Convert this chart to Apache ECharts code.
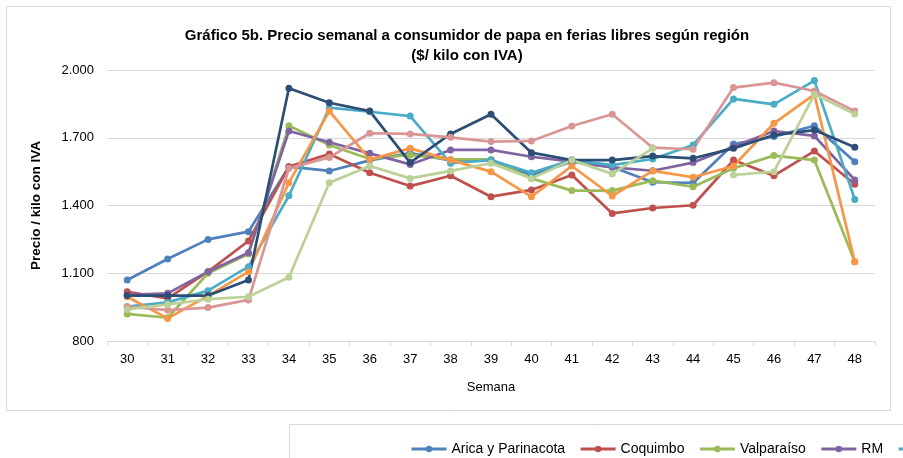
<!DOCTYPE html>
<html>
<head>
<meta charset="utf-8">
<script src="https://cdn.jsdelivr.net/npm/echarts@6/dist/echarts.min.js"></script>
<style>
html,body{margin:0;padding:0;background:#fff;}
#chart{width:903px;height:458px;}
</style>
</head>
<body>
<div id="chart"></div>
<script>
const weeks = ['30','31','32','33','34','35','36','37','38','39','40','41','42','43','44','45','46','47','48'];
const seriesNames = ['Arica y Parinacota','Coquimbo','Valparaíso','RM',"O'Higgins",'Maule','Biobío','La Araucanía','Los Lagos'];
const arica      = [1070,1163,1250,1284,1572,1553,1600,1632,1600,1600,1535,1594,1570,1503,1500,1672,1705,1753,1594];
const coquimbo   = [1018, 989,1107,1243,1572,1628,1545,1486,1532,1439,1469,1535,1365,1389,1401,1601,1532,1641,1494];
const valparaiso = [ 920, 903,1100,1185,1753,1668,1606,1624,1604,1604,1520,1466,1466,1510,1483,1565,1621,1601,1151];
const rm         = [1004,1011,1107,1191,1730,1680,1631,1582,1646,1646,1616,1594,1569,1554,1590,1660,1730,1708,1513];
const ohiggins   = [ 952, 971,1023,1129,1443,1833,1815,1796,1587,1601,1545,1601,1579,1606,1668,1872,1848,1953,1427];
const maule      = [ 996, 900,1000,1107,1501,1818,1604,1653,1601,1550,1439,1575,1442,1553,1525,1575,1764,1892,1151];
const biobio     = [1001,1001,1001,1070,1919,1855,1818,1590,1717,1804,1634,1601,1601,1619,1609,1653,1712,1734,1658];
const araucania  = [ 952, 937, 948, 982,1565,1613,1720,1717,1702,1683,1686,1752,1804,1656,1649,1922,1944,1907,1818];
const losLagos   = [ 940, 962, 985, 996,1082,1501,1575,1520,1553,1587,1520,1601,1540,1653,null,1535,1550,1892,1805];
const yTicks = [800,1100,1400,1700,2000];

const allData = [arica,coquimbo,valparaiso,rm,ohiggins,maule,biobio,araucania,losLagos];
const colors = ['#4F81BD','#C0504D','#9BBB59','#8064A2','#4BACC6','#F79646','#2C4D75','#D99694','#BBD197'];

function fmt(v){
  if (v >= 1000) return Math.floor(v/1000) + '.' + String(v % 1000).padStart(3,'0');
  return String(v);
}

const chart = echarts.init(document.getElementById('chart'), null, {renderer:'canvas'});
const FONT = 'Liberation Sans';
chart.setOption({
  backgroundColor:'#fff',
  animation:false,
  color: colors,
  title:{
    text:'Gráfico 5b. Precio semanal a consumidor de papa en ferias libres según región\n($/ kilo con IVA)',
    left:462, top:21, textAlign:'center',
    textStyle:{fontFamily:FONT,fontSize:15,fontWeight:'bold',color:'#000',lineHeight:20}
  },
  graphic:[
    {type:'rect',shape:{x:6.5,y:6.5,width:884,height:404},style:{fill:null,stroke:'#D9D9D9',lineWidth:1},z:-1},
    {type:'rect',shape:{x:289.5,y:424.5,width:700,height:60},style:{fill:null,stroke:'#D9D9D9',lineWidth:1},z:-1}
  ],
  legend:{
    data: seriesNames.slice(0,5),
    left:405, top:437, width:3000,
    itemWidth:35, itemHeight:8, itemGap:14,
    lineStyle:{width:3},
    textStyle:{fontFamily:FONT,fontSize:14,color:'#000'}
  },
  grid:{left:107,right:28,top:70,bottom:117,containLabel:false},
  xAxis:{
    type:'category', data:weeks, boundaryGap:true,
    name:'Semana', nameLocation:'middle', nameGap:40,
    nameTextStyle:{fontFamily:FONT,fontSize:13,color:'#000'},
    axisLine:{lineStyle:{color:'#D9D9D9',width:1}},
    axisTick:{show:true,length:5,lineStyle:{color:'#D9D9D9'}},
    axisLabel:{fontFamily:FONT,fontSize:13,color:'#000',margin:12}
  },
  yAxis:{
    type:'value', min:800, max:2000, interval:300,
    name:'Precio / kilo con IVA', nameLocation:'middle', nameGap:64, nameRotate:90,
    nameTextStyle:{fontFamily:FONT,fontSize:13.5,fontWeight:'bold',color:'#000'},
    axisLine:{show:false}, axisTick:{show:false},
    splitLine:{lineStyle:{color:'#D9D9D9',width:1}},
    axisLabel:{fontFamily:FONT,fontSize:13,color:'#000',margin:13,
      formatter:function(v){ return yTicks.indexOf(v) >= 0 ? fmt(v) : ''; }}
  },
  series: seriesNames.map(function(n,i){
    return {
      name:n, type:'line', data:allData[i],
      symbol:'circle', symbolSize:7, connectNulls:false,
      lineStyle:{width:2.7,color:colors[i]},
      itemStyle:{color:colors[i]}
    };
  })
});
</script>
</body>
</html>
